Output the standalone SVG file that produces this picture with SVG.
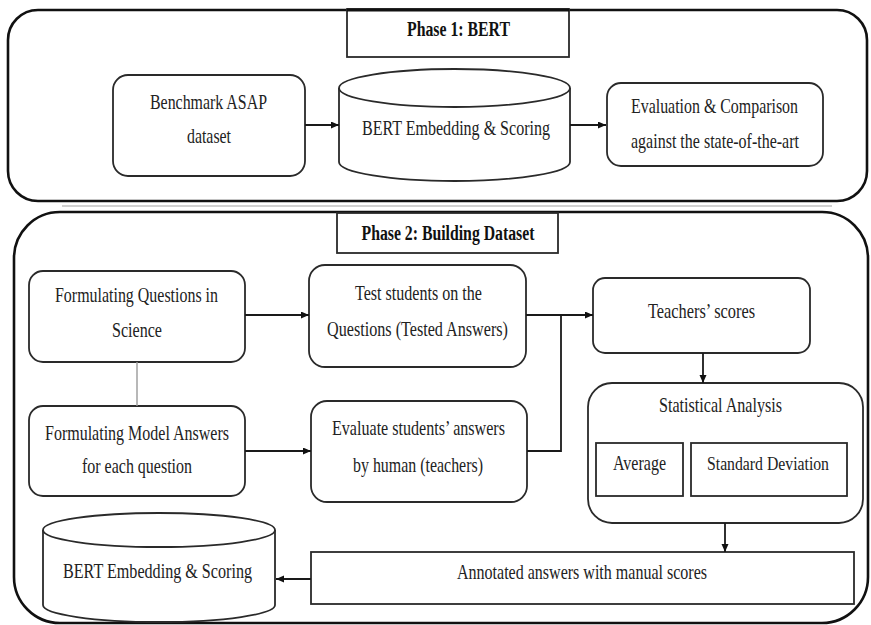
<svg xmlns="http://www.w3.org/2000/svg" width="871" height="625" viewBox="0 0 871 625">
<defs>
<style>
.bg{fill:#fff}
.outer{fill:none;stroke:#111;stroke-width:2.6}
.box{fill:#fff;stroke:#2a2a2a;stroke-width:1.8}
.ttl{fill:#fff;stroke:#2a2a2a;stroke-width:1.8}
.t{font-family:"Liberation Serif","Times New Roman",serif;font-size:21.5px;fill:#222;text-anchor:middle}
.b{font-weight:bold;fill:#111;font-size:20.5px}
.s{font-size:19px}
.c{fill:none;stroke:#1a1a1a;stroke-width:1.8}
.g{fill:none;stroke:#9a9a9a;stroke-width:1.4}
</style>
<marker id="ah" markerWidth="9" markerHeight="8" refX="8" refY="3.5" orient="auto" markerUnits="userSpaceOnUse">
<path d="M0,0 L8,3.5 L0,7 z" fill="#111"/>
</marker>
</defs>
<rect class="bg" x="0" y="0" width="871" height="625"/>

<g id="phase1">
<rect class="outer" x="8" y="10" width="859" height="191" rx="30"/>
<line x1="62" y1="206" x2="832" y2="206" stroke="#d0d0d0" stroke-width="2"/>
</g>
<g id="phase1-title">
<rect class="ttl" x="347" y="9" width="222" height="48"/>
<line x1="347" y1="10" x2="569" y2="10" stroke="#111" stroke-width="3"/>
<text class="t b" x="458.5" y="36" textLength="103" lengthAdjust="spacingAndGlyphs">Phase 1: BERT</text>
</g>
<g id="benchmark">
<rect class="box" x="113" y="75" width="192" height="101" rx="15"/>
<text class="t" x="208.5" y="109" textLength="117" lengthAdjust="spacingAndGlyphs">Benchmark ASAP</text>
<text class="t" x="209" y="143" textLength="44" lengthAdjust="spacingAndGlyphs">dataset</text>
</g>
<g id="bert1">
<path class="box" d="M339,88 L339,162 A115.5,19 0 0 0 570,162 L570,88"/>
<ellipse class="box" cx="454.5" cy="88" rx="115.5" ry="19"/>
<text class="t" x="456" y="135" textLength="188" lengthAdjust="spacingAndGlyphs">BERT Embedding &amp; Scoring</text>
</g>
<g id="evaluation">
<rect class="box" x="607" y="83" width="216" height="83" rx="14"/>
<text class="t" x="714.5" y="113" textLength="167" lengthAdjust="spacingAndGlyphs">Evaluation &amp; Comparison</text>
<text class="t" x="715" y="148" textLength="168" lengthAdjust="spacingAndGlyphs">against the state-of-the-art</text>
</g>

<g id="phase2">
<rect class="outer" x="14" y="212" width="854" height="411" rx="46"/>
</g>
<g id="phase2-title">
<rect class="ttl" x="337" y="213" width="221" height="40"/>
<text class="t b" x="448" y="240" textLength="173" lengthAdjust="spacingAndGlyphs">Phase 2: Building Dataset</text>
</g>
<g id="formq">
<rect class="box" x="29" y="271" width="216" height="91" rx="14"/>
<text class="t" x="136.5" y="302" textLength="163" lengthAdjust="spacingAndGlyphs">Formulating Questions in</text>
<text class="t" x="137" y="337" textLength="50" lengthAdjust="spacingAndGlyphs">Science</text>
</g>
<g id="test">
<rect class="box" x="309" y="265" width="217" height="102" rx="16"/>
<text class="t" x="418.5" y="300" textLength="127" lengthAdjust="spacingAndGlyphs">Test students on the</text>
<text class="t" x="417.5" y="336" textLength="181" lengthAdjust="spacingAndGlyphs">Questions (Tested Answers)</text>
</g>
<g id="teachers">
<rect class="box" x="593" y="278" width="217" height="75" rx="12"/>
<text class="t" x="701.5" y="318" textLength="107" lengthAdjust="spacingAndGlyphs">Teachers’ scores</text>
</g>
<g id="stats">
<rect class="box" x="588" y="383" width="275" height="140" rx="24"/>
<text class="t" x="720.5" y="412" textLength="123" lengthAdjust="spacingAndGlyphs">Statistical Analysis</text>
</g>
<g id="average">
<rect class="box" x="596" y="443" width="87" height="53"/>
<text class="t" x="639.5" y="470" textLength="53" lengthAdjust="spacingAndGlyphs">Average</text>
</g>
<g id="stddev">
<rect class="box" x="691" y="443" width="156" height="53"/>
<text class="t s" x="768" y="470" textLength="122" lengthAdjust="spacingAndGlyphs">Standard Deviation</text>
</g>
<g id="formm">
<rect class="box" x="29" y="406" width="216" height="90" rx="14"/>
<text class="t" x="137" y="440" textLength="184" lengthAdjust="spacingAndGlyphs">Formulating Model Answers</text>
<text class="t" x="137" y="473" textLength="110" lengthAdjust="spacingAndGlyphs">for each question</text>
</g>
<g id="evaluate">
<rect class="box" x="311" y="401" width="216" height="101" rx="16"/>
<text class="t" x="418.5" y="435" textLength="173" lengthAdjust="spacingAndGlyphs">Evaluate students’ answers</text>
<text class="t" x="418" y="472" textLength="130" lengthAdjust="spacingAndGlyphs">by human (teachers)</text>
</g>
<g id="bert2">
<path class="box" d="M43,530 L43,605 A116,17 0 0 0 275,605 L275,530"/>
<ellipse class="box" cx="159" cy="530" rx="116" ry="17"/>
<text class="t" x="157.5" y="578" textLength="189" lengthAdjust="spacingAndGlyphs">BERT Embedding &amp; Scoring</text>
</g>
<g id="annotated">
<rect class="box" x="311" y="552" width="543" height="52"/>
<text class="t" x="582" y="579" textLength="250" lengthAdjust="spacingAndGlyphs">Annotated answers with manual scores</text>
</g>

<g id="connectors">
<line class="c" x1="305" y1="125" x2="339" y2="125" marker-end="url(#ah)"/>
<line class="c" x1="570" y1="125" x2="606" y2="125" marker-end="url(#ah)"/>
<line class="c" x1="245" y1="315" x2="309" y2="315" marker-end="url(#ah)"/>
<line class="c" x1="526" y1="315" x2="593" y2="315" marker-end="url(#ah)"/>
<polyline class="c" points="527,451 561,451 561,315"/>
<line class="g" x1="137" y1="362" x2="137" y2="406"/>
<line class="c" x1="245" y1="451" x2="311" y2="451" marker-end="url(#ah)"/>
<line class="c" x1="703" y1="353" x2="703" y2="383" marker-end="url(#ah)"/>
<line class="c" x1="725" y1="523" x2="725" y2="552" marker-end="url(#ah)"/>
<line class="c" x1="311" y1="579" x2="276" y2="579" marker-end="url(#ah)"/>
</g>
</svg>
